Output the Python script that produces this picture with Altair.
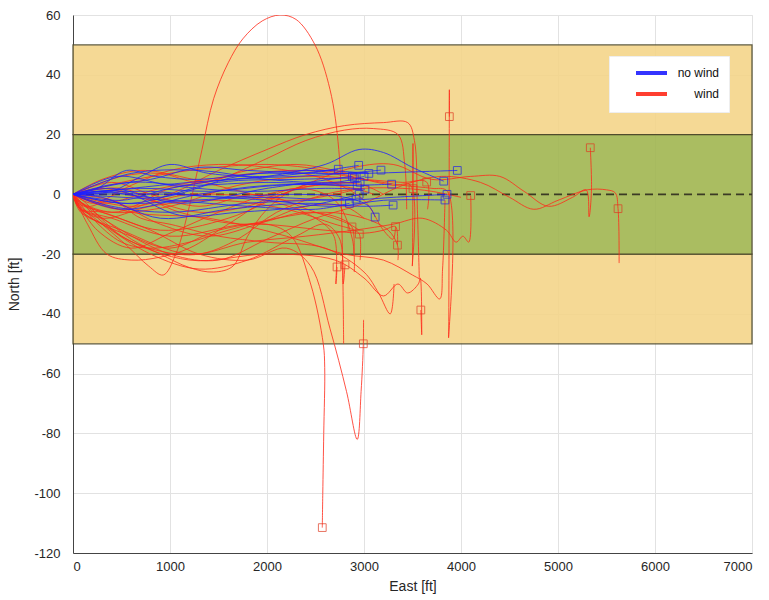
import altair as alt
import pandas as pd

FONT = "Liberation Sans"

x_ticks = [0, 1000, 2000, 3000, 4000, 5000, 6000, 7000]
y_ticks = [-120, -100, -80, -60, -40, -20, 0, 20, 40, 60]

# corridor bands (North, ft)
band_lo = [20, -50, -20]
band_hi = [50, -20, 20]
band_fill = ["#f4d58a", "#f4d58a", "#a1b651"]
band_left = [0, 0, 0]
band_right = [7000, 7000, 7000]

# centreline
zero_x = [0]
zero_x2 = [7000]
zero_y = [0]

# trajectories without wind: (East ft, North ft)
blue_paths = [
    [(0, 0), (250, 2), (550, 8), (850, 6), (1300, 5), (1900, 7), (2400, 7), (2735, 8.4)],
    [(0, 0), (400, 1), (700, 6), (1000, 10), (1400, 7), (2000, 6), (2600, 8), (2945, 9.7)],
    [(0, 0), (500, -2), (1000, 2), (1600, 5), (2300, 6), (2800, 7), (3175, 8.1)],
    [(0, 0), (600, 2), (1200, 4), (2000, 6), (2600, 10), (2950, 15), (3200, 14), (3500, 9), (3822, 4.4)],
    [(0, 0), (500, -3), (1200, -2), (2000, -1), (2800, -2), (3300, -1), (3856, 0)],
    [(0, 0), (400, -4), (1000, -6), (1800, -3), (2500, -2), (2918, -1.6)],
    [(0, 0), (600, 4), (1200, 3), (2000, 4), (2800, 3), (3285, 3.4)],
    [(0, 0), (450, 6), (1000, 3), (1800, 1), (2600, 2), (3010, 1.7)],
    [(0, 0), (300, -1), (900, -8), (1600, -5), (2400, -3), (3000, -4), (3300, -3.6)],
    [(0, 0), (800, 1), (1500, -1), (2200, 0), (2800, -1), (3050, -4), (3115, -7.6)],
    [(0, 0), (600, -3), (1500, 4), (2300, 5), (2900, 5.5)],
    [(0, 0), (400, 2), (1100, -3), (2000, 2), (2880, 6)],
    [(0, 0), (700, 2), (1400, 1), (2100, 3), (2960, 4)],
    [(0, 0), (500, -5), (1300, 0), (2000, 3), (2930, 3)],
    [(0, 0), (1000, -2), (1800, -4), (2500, -5), (2850, -3)],
    [(0, 0), (600, 7), (1300, 8), (2000, 5), (2700, 4), (3000, 6)],
    [(0, 0), (300, 1), (900, -1), (1700, 6), (2500, 8), (3050, 7)],
    [(0, 0), (1000, 0), (2000, -2), (2700, -4), (3200, -2), (3835, -1.9)],
    [(0, 0), (350, 3), (800, 5), (1300, 9), (1800, 8), (2500, 7), (3000, 7), (3500, 7.5), (3962, 8)],
    [(0, 0), (500, 1), (1100, -7), (1700, -6), (2400, -4), (2950, 0)],
]
blue_end_x = [2735, 2945, 3175, 3822, 3856, 2918, 3285, 3010, 3300, 3115,
              2900, 2880, 2960, 2930, 2850, 3000, 3050, 3835, 3962, 2950]
blue_end_y = [8.4, 9.7, 8.1, 4.4, 0, -1.6, 3.4, 1.7, -3.6, -7.6,
              5.5, 6, 4, 3, -3, 6, 7, -1.9, 8, 0]

# trajectories with wind
red_paths = [
    [(0, 0), (80, -4), (300, -10), (550, -17), (780, -24), (930, -27), (1060, -20), (1200, -4), (1330, 15),
     (1450, 32), (1600, 44), (1750, 52), (1950, 58), (2134, 60), (2300, 58.5), (2495, 50), (2650, 35),
     (2740, 15), (2775, -15), (2790, -50)],
    [(0, 0), (70, -5), (300, -10), (600, -14), (1000, -18), (1500, -12), (2000, -10), (2250, -14), (2450, -30),
     (2580, -50), (2595, -58), (2585, -80), (2575, -100), (2570, -111.5)],
    [(0, 0), (60, -3), (300, -6), (800, -12), (1300, -20), (1800, -22), (2200, -18), (2450, -24), (2650, -45),
     (2820, -66), (2930, -82), (2970, -66), (2993, -50), (2995, -42)],
    [(0, 0), (80, -5), (300, -6), (900, -12), (1600, -8), (2300, 2), (2900, 9), (3300, 10), (3700, 5), (4100, 6),
     (4400, 6), (4650, 1), (4900, -4), (5150, -1), (5290, 1.5), (5320, -7.5), (5345, 1.5), (5333, 15.6)],
    [(0, 0), (60, -2), (400, -10), (1000, -20), (1500, -22), (2000, -15), (2500, -8), (3000, -3), (3400, 3),
     (3800, 6), (4200, 4), (4500, -1), (4750, -5), (5000, -2), (5300, 1.5), (5500, 1.5), (5590, 0.5),
     (5619, -4.8), (5630, -23)],
    [(0, 0), (80, -6), (500, -12), (1200, -20), (1800, -16), (2400, -14), (2900, -12), (3300, -10), (3600, -8),
     (3850, -12), (3950, -16), (4020, -14), (4080, -16), (4100, -0.4)],
    [(0, 0), (300, -3), (900, 2), (1600, 6), (2400, 8), (3000, 5), (3400, 3), (3700, 2), (3860, 1),
     (3872, -48), (3880, 35), (3880, 26)],
    [(0, 0), (100, -3), (400, -6), (1000, -4), (1700, 3), (2400, 6), (3000, 5), (3400, 4), (3646, 4.1), (3655, -5)],
    [(0, 0), (500, 4), (1200, 8), (2000, 10), (2600, 8), (3000, 5), (3300, 3), (3480, 3), (3498, -24),
     (3505, 17), (3505, 1.9)],
    [(0, 0), (100, -5), (400, -8), (1000, -14), (1800, -10), (2600, -12), (3000, -13), (3200, -12),
     (3325, -10.8), (3345, -17)],
    [(0, 0), (500, -14), (1200, -22), (2000, -20), (2700, -22), (3000, -28), (3200, -34), (3350, -30),
     (3450, -33), (3560, -30), (3580, -28), (3595, -47), (3586, -38.7)],
    [(0, 0), (50, -4), (300, -8), (800, -4), (1500, -2), (2200, -5), (2700, -10), (2900, -12), (2952, -13.3),
     (2960, -22)],
    [(0, 0), (500, 2), (1100, -6), (1800, -10), (2400, -6), (2750, -8), (2876, -10.9), (2895, -20)],
    [(0, 0), (100, -6), (300, -10), (800, -20), (1300, -25), (1800, -22), (2300, -14), (2600, -10), (2750, -15),
     (2785, -30), (2804, -23.6)],
    [(0, 0), (600, -4), (1200, 0), (2000, -2), (2500, -8), (2690, -14), (2710, -30), (2722, -24.3)],
    [(0, 0), (80, -3), (400, -6), (1000, 0), (1500, 8), (2000, 15), (2400, 20), (2800, 23), (3200, 24),
     (3450, 24), (3520, 18), (3550, -5), (3570, -28)],
    [(0, 0), (500, -5), (1000, 2), (1500, 5), (2000, 12), (2400, 18), (2800, 21.5), (3100, 22), (3350, 20),
     (3420, 10), (3440, -5)],
    [(0, 0), (80, -5), (300, -8), (600, -15), (900, -20), (1200, -24.5), (1450, -26), (1650, -24), (1800, -14),
     (2000, -5), (2300, 2), (2600, 4), (3000, 3), (3200, 0)],
    [(0, 0), (150, -10), (350, -20), (600, -22), (900, -21), (1200, -18), (1600, -10), (2000, -2), (2500, 3),
     (2900, 2), (3100, 0)],
    [(0, 0), (200, -8), (500, -16), (800, -18), (1200, -16), (1600, -12), (2100, -8), (2600, -6), (3000, -8),
     (3250, -12), (3345, -17), (3350, -22)],
    [(0, 0), (300, 5), (700, 8), (1100, 6), (1600, 2), (2200, -2), (2700, 0), (2950, 2)],
    [(0, 0), (400, -2), (900, -10), (1400, -14), (1900, -10), (2400, -4), (2800, -4), (3000, -8)],
    [(0, 0), (250, -12), (600, -18), (1000, -13), (1500, -6), (2000, 0), (2500, 3), (2900, 4)],
    [(0, 0), (300, 2), (800, -2), (1300, -6), (1800, -4), (2300, 2), (2700, -2), (2880, -15), (2900, -26)],
    [(0, 0), (500, 6), (900, 7), (1300, 4), (1800, 8), (2300, 10), (2700, 8), (2950, 6)],
    [(0, 0), (150, -4), (400, -2), (700, -8), (1000, -10), (1500, -14), (2000, -16), (2600, -18), (3000, -26),
     (3150, -33), (3270, -40), (3310, -30)],
    [(0, 0), (400, 4), (800, 0), (1300, -4), (1900, 0), (2500, -6), (2850, -10), (2950, -12)],
    [(0, 0), (200, -3), (600, 3), (1000, 8), (1500, 10), (2000, 9), (2600, 5), (3000, -2), (3200, -12),
     (3300, -15), (3325, -10.8)],
    [(0, 0), (600, -6), (1400, -8), (2200, -14), (2800, -20), (3200, -22), (3500, -27), (3650, -30),
     (3780, -35), (3810, -25), (3835, -2)],
    [(0, 0), (100, -2), (500, -14), (900, -19), (1300, -20), (1700, -15), (2100, -6), (2600, 0), (3000, 2),
     (3400, 2), (3700, 1), (4000, -1)],
]
red_end_x = [3880, 3646, 3505, 4100, 3325, 3345, 2952, 2876, 2804, 2722, 3586, 5333, 5619, 2570, 2993]
red_end_y = [26, 4.1, 1.9, -0.4, -10.8, -17, -13.3, -10.9, -23.6, -24.3, -38.7, 15.6, -4.8, -111.5, -50]

# ---------------------------------------------------------------- tables
def path_table(paths, label, prefix):
    rows = []
    for i, p in enumerate(paths):
        for j, (x, y) in enumerate(p):
            rows.append({"id": f"{prefix}{i}", "k": j, "x": x, "y": y, "group": label})
    return pd.DataFrame(rows)

red_df = path_table(red_paths, "wind", "r")
blue_df = path_table(blue_paths, "no wind", "b")
ends_df = pd.concat([
    pd.DataFrame({"x": red_end_x, "y": red_end_y, "group": "wind"}),
    pd.DataFrame({"x": blue_end_x, "y": blue_end_y, "group": "no wind"}),
])
bands_df = pd.DataFrame({"x": band_left, "x2": band_right, "lo": band_lo, "hi": band_hi, "fill": band_fill})
zero_df = pd.DataFrame({"x": zero_x, "x2": zero_x2, "y": zero_y})

xscale = alt.Scale(domain=[0, 7000], nice=False, zero=False)
yscale = alt.Scale(domain=[-120, 60], nice=False, zero=False)
xaxis = alt.Axis(values=x_ticks, title="East [ft]", labelExpr="'' + datum.value")
yaxis = alt.Axis(values=y_ticks, title="North [ft]", labelExpr="'' + datum.value")
cscale = alt.Scale(domain=["no wind", "wind"], range=["#1f1fff", "#ff2a1a"])

bands = alt.Chart(bands_df).mark_rect(opacity=0.9, stroke="#4f4b2c", strokeWidth=1.3, strokeOpacity=1).encode(
    x=alt.X("x:Q", scale=xscale, axis=xaxis),
    x2="x2:Q",
    y=alt.Y("lo:Q", scale=yscale, axis=yaxis),
    y2="hi:Q",
    fill=alt.Fill("fill:N", scale=None),
)

zero = alt.Chart(zero_df).mark_rule(strokeDash=[8, 5], color="#3b3b25", strokeWidth=1.6).encode(
    x=alt.X("x:Q", scale=xscale), x2="x2:Q", y=alt.Y("y:Q", scale=yscale)
)

legend = alt.Legend(
    title=None, orient="none", legendX=536, legendY=41, fillColor="white", strokeColor="#eeeeee",
    padding=10, symbolType="M-2.6,0M2,0H8.2", symbolStrokeWidth=4, symbolSize=100,
    labelFont=FONT, labelFontSize=12, labelColor="#111111", rowPadding=5, labelOffset=86,
    labelAlign="right",
)

def lines(df):
    return alt.Chart(df).mark_line(strokeWidth=0.9, interpolate="catmull-rom", clip=True, opacity=0.9).encode(
        x=alt.X("x:Q", scale=xscale),
        y=alt.Y("y:Q", scale=yscale),
        detail="id:N",
        order="k:Q",
        color=alt.Color("group:N", scale=cscale, legend=legend),
    )

squares = alt.Chart(ends_df).mark_point(shape="square", size=60, filled=False, strokeWidth=1, clip=True).encode(
    x=alt.X("x:Q", scale=xscale),
    y=alt.Y("y:Q", scale=yscale),
    stroke=alt.Stroke("group:N", scale=alt.Scale(domain=["no wind", "wind"], range=["#2020ee", "#e03a22"]),
                      legend=None),
)

chart = alt.layer(bands, zero, lines(red_df), lines(blue_df), squares).properties(
    width=679, height=538, autosize="none",
    padding={"left": 73, "top": 15, "right": 17, "bottom": 47},
).configure_view(stroke="#e4e4e4").configure_axis(
    labelFont=FONT, titleFont=FONT, labelFontSize=13, titleFontSize=14,
    labelColor="#262626", titleColor="#262626", titleFontWeight="normal",
    gridColor="#e2e2e2", gridWidth=1, domainColor="#444444", domainWidth=1,
    tickSize=0, labelPadding=13,
).configure_axisY(titlePadding=12).configure_axisX(labelPadding=7, titlePadding=6)

chart.save("out.html", embed_options={"renderer": "svg", "actions": False})
